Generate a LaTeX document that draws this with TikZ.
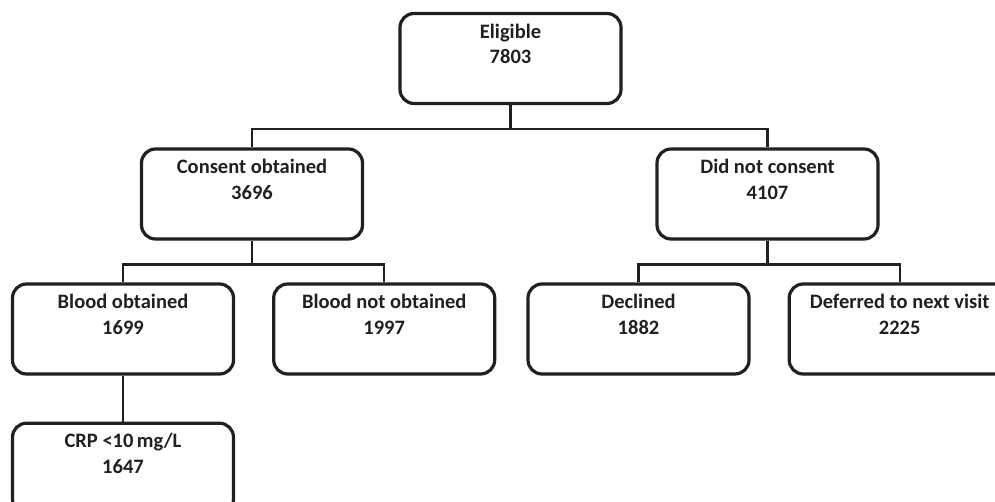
\documentclass[tikz,border=0pt]{standalone}
\usepackage{fontspec}
\setmainfont{Carlito}
\definecolor{inkgray}{RGB}{35,31,32}
\usetikzlibrary{positioning}
\tikzset{
  stage/.style={draw=inkgray, line width=3.2pt, rounded corners=14pt,
    minimum width=221pt, minimum height=90pt, align=center, text=inkgray,
    font=\bfseries\fontsize{20.5}{25.5}\selectfont},
  link/.style={draw=inkgray, line width=2.2pt}
}
\newcommand{\stagetext}[2]{\strut #1\\#2\\\strut}

\begin{document}
\begin{tikzpicture}[x=1pt, y=-1pt, node distance=46pt and 37pt]
  \useasboundingbox (0,0) rectangle (995,502);
  \clip (0,0) rectangle (995,502);

  \node [stage] (eligible) at (510.5,58.5) {\stagetext{Eligible}{7803}};
  \node [stage] (consent) at (252,194) {\stagetext{Consent obtained}{3696}};
  \node [stage] (noconsent) at (767.5,194) {\stagetext{Did not consent}{4107}};

  \node [stage] (blood) at (123,329) {\stagetext{Blood obtained}{1699}};
  \node [stage, right=of blood] (noblood) {\stagetext{Blood not obtained}{1997}};
  \node [stage] (declined) at (638.5,329) {\stagetext{Declined}{1882}};
  \node [stage, right=of declined] (deferred) {\stagetext{Deferred to next visit}{2225}};
  \node [stage, below=of blood] (crp) {\stagetext{CRP <10\,mg/L}{1647}};

  \draw [link] (eligible.south) -- ++(0,24) -| (consent.north);
  \draw [link] (eligible.south) -- ++(0,24) -| (noconsent.north);
  \draw [link] (consent.south) -- ++(0,24) -| (blood.north);
  \draw [link] (consent.south) -- ++(0,24) -| (noblood.north);
  \draw [link] (noconsent.south) -- ++(0,24) -| (declined.north);
  \draw [link] (noconsent.south) -- ++(0,24) -| (deferred.north);
  \draw [link] (blood) -- (crp);
\end{tikzpicture}
\end{document}
